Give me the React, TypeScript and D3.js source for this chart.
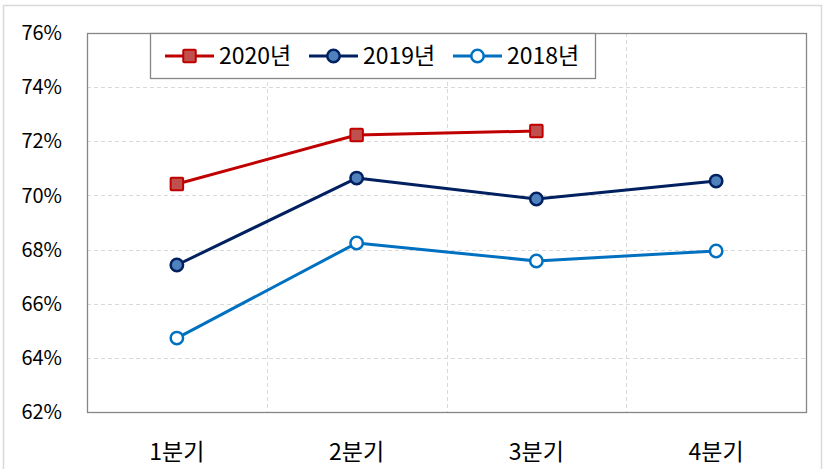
import React, { useRef, useEffect } from 'react';
import * as d3 from 'd3';

const quarters = ['1분기', '2분기', '3분기', '4분기'];
const seriesNames = ['2020년', '2019년', '2018년'];
const values2020 = [70.42, 72.23, 72.38];
const values2019 = [67.43, 70.64, 69.87, 70.53];
const values2018 = [64.73, 68.24, 67.58, 67.95];
const yTicks = [62, 64, 66, 68, 70, 72, 74, 76];

const styles = [
  { line: '#C00000', fill: '#C0504D', marker: 'square' },
  { line: '#002060', fill: '#4F81BD', marker: 'circle' },
  { line: '#0070C0', fill: '#FFFFFF', marker: 'circle' },
];

const App: React.FC = () => {
  const svgRef = useRef<SVGSVGElement | null>(null);

  useEffect(() => {
    if (!svgRef.current) return;
    const width = 826;
    const height = 469;
    const left = 87, right = 806, top = 33, bottom = 412;
    const font = '"Noto Sans CJK KR", "Noto Sans", sans-serif';
    const sq = 12.5; // square marker side
    const rad = 6.2; // circle marker radius

    const svg = d3.select(svgRef.current);
    svg.selectAll('*').remove();
    svg.attr('width', width).attr('height', height);

    svg.append('rect').attr('width', width).attr('height', height).attr('fill', '#fff');
    // outer frame
    svg.append('rect')
      .attr('x', 3.5).attr('y', 5.5).attr('width', 818).attr('height', 475)
      .attr('fill', 'none').attr('stroke', '#d9d9d9').attr('stroke-width', 1.5);

    const x = d3.scaleBand<string>().domain(quarters).range([left, right]);
    const y = d3.scaleLinear().domain([62, 76]).range([bottom, top]);

    // horizontal gridlines
    svg.append('g').selectAll('line')
      .data(yTicks.slice(1, -1))
      .enter().append('line')
      .attr('x1', left).attr('x2', right)
      .attr('y1', d => Math.round(y(d)) + 0.5).attr('y2', d => Math.round(y(d)) + 0.5)
      .attr('stroke', '#d9d9d9').attr('stroke-dasharray', '4,3');

    // vertical gridlines at band boundaries
    svg.append('g').selectAll('line')
      .data(quarters.slice(1))
      .enter().append('line')
      .attr('x1', d => Math.round(x(d)!) + 0.5).attr('x2', d => Math.round(x(d)!) + 0.5)
      .attr('y1', top).attr('y2', bottom)
      .attr('stroke', '#d9d9d9').attr('stroke-dasharray', '4,3');

    // plot border
    svg.append('rect')
      .attr('x', left + 0.5).attr('y', top + 0.5)
      .attr('width', right - left).attr('height', bottom - top)
      .attr('fill', 'none').attr('stroke', '#868686').attr('stroke-width', 1.3);

    // y labels
    svg.append('g').selectAll('text')
      .data(yTicks)
      .enter().append('text')
      .attr('x', 62).attr('y', d => y(d))
      .attr('dy', '0.36em')
      .attr('text-anchor', 'end')
      .style('font-family', font).style('font-size', '20px').attr('fill', '#000')
      .text(d => `${d}%`);

    // x labels
    svg.append('g').selectAll('text')
      .data(quarters)
      .enter().append('text')
      .attr('x', d => x(d)! + x.bandwidth() / 2).attr('y', 452)
      .attr('dy', '0.36em')
      .attr('text-anchor', 'middle')
      .style('font-family', font).style('font-size', '23px').attr('fill', '#000')
      .text(d => d);

    const allSeries = [values2020, values2019, values2018];
    const cx = (i: number) => x(quarters[i])! + x.bandwidth() / 2;

    allSeries.forEach((vals, si) => {
      const st = styles[si];
      const line = d3.line<number>().x((_, i) => cx(i)).y(d => y(d));
      svg.append('path')
        .datum(vals)
        .attr('d', line)
        .attr('fill', 'none')
        .attr('stroke', st.line)
        .attr('stroke-width', 3)
        .attr('stroke-linejoin', 'round');
      const g = svg.append('g');
      if (st.marker === 'square') {
        g.selectAll('rect').data(vals).enter().append('rect')
          .attr('x', (_, i) => cx(i) - sq / 2).attr('y', d => y(d) - sq / 2)
          .attr('width', sq).attr('height', sq).attr('rx', 1)
          .attr('fill', st.fill).attr('stroke', st.line).attr('stroke-width', 2);
      } else {
        g.selectAll('circle').data(vals).enter().append('circle')
          .attr('cx', (_, i) => cx(i)).attr('cy', d => y(d)).attr('r', rad)
          .attr('fill', st.fill).attr('stroke', st.line).attr('stroke-width', 2.5);
      }
    });

    // legend
    const lg = svg.append('g');
    lg.append('rect')
      .attr('x', 150.5).attr('y', top + 0.5).attr('width', 445).attr('height', 45)
      .attr('fill', '#fff').attr('stroke', '#868686').attr('stroke-width', 1.3);
    const legendX = [165, 309, 453];
    const ly = 56;
    seriesNames.forEach((name, si) => {
      const st = styles[si];
      const lx = legendX[si];
      lg.append('line')
        .attr('x1', lx).attr('x2', lx + 49).attr('y1', ly).attr('y2', ly)
        .attr('stroke', st.line).attr('stroke-width', 3);
      if (st.marker === 'square') {
        lg.append('rect')
          .attr('x', lx + 24.5 - sq / 2).attr('y', ly - sq / 2).attr('width', sq).attr('height', sq).attr('rx', 1)
          .attr('fill', st.fill).attr('stroke', st.line).attr('stroke-width', 2);
      } else {
        lg.append('circle')
          .attr('cx', lx + 24.5).attr('cy', ly).attr('r', rad)
          .attr('fill', st.fill).attr('stroke', st.line).attr('stroke-width', 2.5);
      }
      lg.append('text')
        .attr('x', lx + 54).attr('y', ly).attr('dy', '0.36em')
        .style('font-family', font).style('font-size', '23px').attr('fill', '#000')
        .text(name);
    });
  }, []);

  return <svg ref={svgRef} style={{ position: 'absolute', left: 0, top: 0, display: 'block' }}></svg>;
};

export default App;
